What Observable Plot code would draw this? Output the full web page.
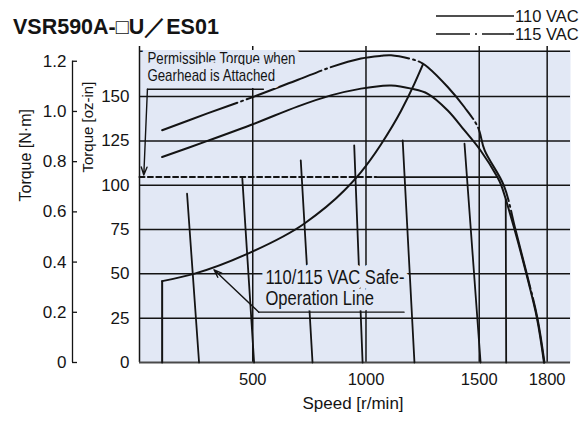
<!DOCTYPE html>
<html>
<head>
<meta charset="utf-8">
<script src="https://cdn.jsdelivr.net/npm/d3@7"></script>
<script src="https://cdn.jsdelivr.net/npm/@observablehq/plot@0.6"></script>
<style>
html,body{margin:0;padding:0;background:#fff;}
#chart{width:579px;height:423px;overflow:hidden;}
#head{display:block;}
#plot svg{display:block;}
</style>
</head>
<body>
<div id="chart">
<svg id="head" width="579" height="45"></svg>
<div id="plot"></div>
</div>
<script>
// ---------------- data ----------------
const titleText = "VSR590A-\u25A1U\uFF0FES01";
const seriesNames = ["110 VAC", "115 VAC"];

// torque curves (speed r/min, torque oz-in)
const speed110  = [100, 300, 506, 700, 845, 978, 1066, 1111, 1200, 1273, 1361, 1435, 1506, 1580, 1597, 1656, 1708, 1755, 1786];
const torque110 = [115.9, 125, 134.7, 144.5, 150.7, 154.5, 156, 156.3, 154.5, 151.6, 142.2, 130.9, 119.6, 104.6, 100, 75, 50, 25, 0];
const speed115  = [100, 300, 506, 700, 845, 978, 1066, 1111, 1221, 1251, 1273, 1361, 1435, 1494, 1524, 1608, 1660, 1710, 1757, 1788];
const torque115 = [131, 140.5, 150, 159.5, 166.6, 171.5, 173, 173.3, 170.4, 168.6, 166.6, 155.4, 144, 132.8, 119.6, 100, 75, 50, 25, 0];

// safe-operation line
const safeSpeed  = [100, 100, 240, 476, 727, 904, 978, 1066, 1155, 1214, 1251];
const safeTorque = [0, 45.9, 50, 61.3, 78.3, 97, 107.4, 123, 142, 157.3, 168];

// speed-regulation lines (top point, bottom point)
const regId     = ["a","a","b","b","c","c","d","d","e","e","f","f","g","g"];
const regSpeed  = [210, 263, 454, 506, 712, 764, 948, 985, 1162, 1214, 1435, 1506, 1617, 1619];
const regTorque = [95.2, 0, 103.7, 0, 114, 0, 122.5, 0, 125.3, 0, 123.4, 0, 92, 0];

// permissible torque with gearhead
const permTorque = 104.6;
const permDashSpeed  = [0, 1044];
const permSolidSpeed = [1044, 1580];

// axes
const ozTicks = [0, 25, 50, 75, 100, 125, 150];
const ozTickLabels = ["0", "25", "50", "75", "100", "125", "150"];
const nmTicks = [0, 0.2, 0.4, 0.6, 0.8, 1.0, 1.2];
const nmTickLabels = ["0", "0.2", "0.4", "0.6", "0.8", "1.0", "1.2"];
const OZ_PER_NM = 141.612;
const speedTicks = [500, 1000, 1500, 1800];
const speedTickLabels = ["500", "1000", "1500", "1800"];
const speedGrid = [0, 500, 1000, 1500, 1800];
const ozGrid = [25, 50, 75, 100, 125, 150];
const ozTop = 176;

// annotations
const note1Text = "Permissible Torque when\nGearhead is Attached";
const note1At = {s: 35, t: 175.1};
const note1Leader = [{s: 547, t: 154.1}, {s: 35, t: 154.1}];
const note1Arrow = {s1: 35, t1: 154.1, s2: 19, t2: 105.8};
const note2Text = "110/115 VAC Safe-\nOperation Line";
const note2At = {s: 556, t: 52.9};
const note2Leader = [{s: 1168, t: 28.4}, {s: 527, t: 28.4}];
const note2Arrow = {s1: 527, t1: 28.4, s2: 329, t2: 52.3};

// ---------------- build ----------------
const BG = "#e2e8f5", INK = "#141414";
const REG = '"Liberation Sans",Arial,sans-serif';
const DASHDOT = "80,4,2,4";

const c110 = speed110.map((s, i) => ({s, t: torque110[i]}));
const c115 = speed115.map((s, i) => ({s, t: torque115[i]}));
const safeV = safeSpeed.slice(0, 2).map((s, i) => ({s, t: safeTorque[i]}));
const safeC = safeSpeed.slice(1).map((s, i) => ({s, t: safeTorque[i + 1]}));
const reg = regSpeed.map((s, i) => ({id: regId[i], s, t: regTorque[i]}));
const permD = permDashSpeed.map(s => ({s, t: permTorque}));
const permS = permSolidSpeed.map(s => ({s, t: permTorque}));
const nmTicksOz = nmTicks.map(v => v * OZ_PER_NM);

// header: title + legend
const head = d3.select("#head");
head.append("text").attr("x", 13).attr("y", 34)
  .attr("font-family", REG).attr("font-weight", "bold").attr("font-size", 21.5)
  .attr("fill", INK).text(titleText);
seriesNames.forEach((name, i) => {
  const y = 16 + i * 18;
  head.append("line").attr("x1", 436).attr("x2", 514).attr("y1", y).attr("y2", y)
    .attr("stroke", INK).attr("stroke-width", 1.6)
    .attr("stroke-dasharray", i === 0 ? null : "34,5,2,5");
  head.append("text").attr("x", 515).attr("y", y + 6)
    .attr("font-family", REG).attr("font-size", 16.5).attr("fill", INK).text(name);
});

const plot = Plot.plot({
  width: 579, height: 378,
  marginTop: 5, marginBottom: 61, marginLeft: 139, marginRight: 9,
  x: {domain: [0, 1903]},
  y: {domain: [0, ozTop]},
  style: {fontFamily: REG, fontSize: "16px", color: INK, background: "transparent", overflow: "visible"},
  marks: [
    Plot.frame({fill: BG, stroke: null}),
    Plot.ruleY(ozGrid, {stroke: INK, strokeWidth: 1.5}),
    Plot.ruleY([ozTop], {stroke: INK, strokeWidth: 1.5, dy: 0.75}),
    Plot.ruleX(speedGrid, {stroke: INK, strokeWidth: 1.5, insetTop: -4}),
    Plot.ruleY([0], {stroke: "#4a4a4a", strokeWidth: 2.2}),
    Plot.line(reg, {x: "s", y: "t", z: "id", stroke: INK, strokeWidth: 1.8}),
    Plot.line(permD, {x: "s", y: "t", stroke: INK, strokeWidth: 2, strokeDasharray: "5,3.4"}),
    Plot.line(permS, {x: "s", y: "t", stroke: INK, strokeWidth: 1.8}),
    Plot.line(safeV, {x: "s", y: "t", stroke: INK, strokeWidth: 2}),
    Plot.line(safeC, {x: "s", y: "t", stroke: INK, strokeWidth: 2, curve: "monotone-x"}),
    Plot.line(c110, {x: "s", y: "t", stroke: INK, strokeWidth: 2, curve: "catmull-rom"}),
    Plot.line(c115, {x: "s", y: "t", stroke: INK, strokeWidth: 2, curve: "catmull-rom", strokeDasharray: DASHDOT}),
    // annotations
    Plot.text([note1At], {x: "s", y: "t", text: () => note1Text, textAnchor: "start", lineAnchor: "top",
      lineHeight: 1.04, fontSize: 16, fill: INK, stroke: BG, strokeWidth: 14, clip: "frame"}),
    Plot.text([note2At], {x: "s", y: "t", text: () => note2Text, textAnchor: "start", lineAnchor: "top",
      lineHeight: 1.08, fontSize: 19.5, fill: INK, stroke: BG, strokeWidth: 11, clip: "frame"}),
    Plot.line(note1Leader, {x: "s", y: "t", stroke: INK, strokeWidth: 1.4}),
    Plot.arrow([note1Arrow], {x1: "s1", y1: "t1", x2: "s2", y2: "t2", stroke: INK, strokeWidth: 1.4, headLength: 9, headAngle: 40}),
    Plot.line(note2Leader, {x: "s", y: "t", stroke: INK, strokeWidth: 1.4}),
    Plot.arrow([note2Arrow], {x1: "s1", y1: "t1", x2: "s2", y2: "t2", stroke: INK, strokeWidth: 1.4, headLength: 9, headAngle: 40}),
    // axes
    Plot.axisY(ozTicks, {anchor: "left", tickSize: 0, tickPadding: 10, fontSize: 17, label: null,
      tickFormat: d => ozTickLabels[ozTicks.indexOf(d)]}),
    Plot.ruleX([0], {y1: 0, y2: nmTicksOz[nmTicksOz.length - 1], dx: -67, stroke: INK, strokeWidth: 1.3}),
    Plot.axisY(nmTicksOz, {anchor: "left", tickSize: 5, tickPadding: 6, dx: -62, fontSize: 17, label: null,
      stroke: INK, strokeWidth: 1.3, tickFormat: d => nmTickLabels[nmTicksOz.indexOf(d)]}),
    Plot.axisX(speedTicks, {anchor: "bottom", tickSize: 0, tickPadding: 11, fontSize: 16.5, label: null,
      tickFormat: d => speedTickLabels[speedTicks.indexOf(d)]}),
    Plot.text(["Speed [r/min]"], {frameAnchor: "bottom", dx: -2, dy: 46, fontSize: 17, fill: INK}),
    Plot.text(["Torque [N\u00B7m]"], {frameAnchor: "left", rotate: -90, dx: -113.5, dy: -5, fontSize: 16, fill: INK}),
    Plot.text(["Torque [oz-in]"], {frameAnchor: "left", rotate: -90, dx: -51.5, dy: -34, fontSize: 15, fill: INK})
  ]
});
document.getElementById("plot").appendChild(plot);

// condense the annotation lettering (the reference uses a condensed face)
d3.select(plot).selectAll("text").each(function() {
  const t = this.textContent;
  const tr = this.getAttribute("transform") || "";
  if (t.startsWith("Permissible")) this.setAttribute("transform", tr + " scale(0.83,1)");
  else if (t.startsWith("110/115")) this.setAttribute("transform", tr + " scale(0.85,1)");
});
</script>
</body>
</html>
